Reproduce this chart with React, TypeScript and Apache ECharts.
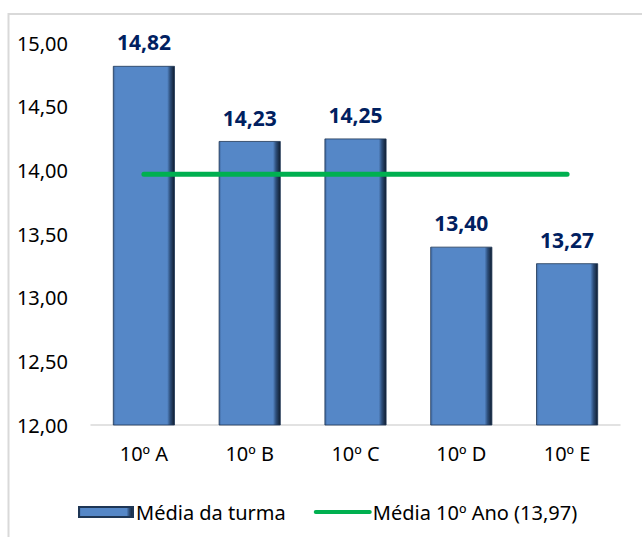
import React, { useEffect, useRef } from "react";
import * as echarts from "echarts";

const categories = ["10º A", "10º B", "10º C", "10º D", "10º E"];
const classAverages = [14.82, 14.23, 14.25, 13.4, 13.27];
const yearAverage = 13.97;
const yearAverageLine = categories.map(() => yearAverage);
const barName = "Média da turma";
const lineName = "Média 10º Ano (13,97)";

const fmt = (v: number) => v.toFixed(2).replace(".", ",");

export default function App() {
  const ref = useRef<HTMLDivElement>(null);
  useEffect(() => {
    if (!ref.current) return;
    const chart = echarts.init(ref.current, undefined, { renderer: "svg" });
    const barFill = new echarts.graphic.LinearGradient(0, 0, 1, 0, [
      { offset: 0, color: "#3f68a0" },
      { offset: 0.04, color: "#5587c7" },
      { offset: 0.88, color: "#5587c7" },
      { offset: 0.93, color: "#2d4e7a" },
      { offset: 1, color: "#0f1c2e" },
    ]);
    const font = "Noto Sans";
    chart.setOption({
      animation: false,
      textStyle: { fontFamily: font },
      graphic: [
        {
          type: "rect",
          shape: { x: 8.5, y: 14, width: 700, height: 600 },
          style: { fill: "none", stroke: "#d9d9d9", lineWidth: 2 },
          silent: true,
        },
      ],
      grid: { left: 91, right: 22, top: 43, bottom: 112 },
      xAxis: {
        type: "category",
        data: categories,
        axisLine: { show: true, lineStyle: { color: "#d9d9d9", width: 1.5 } },
        axisTick: { show: false },
        axisLabel: { color: "#000", fontSize: 20, margin: 18, fontFamily: font },
      },
      yAxis: {
        type: "value",
        min: 12,
        max: 15,
        interval: 0.5,
        splitLine: { show: false },
        axisLine: { show: false },
        axisTick: { show: false },
        axisLabel: {
          color: "#000",
          fontSize: 20,
          margin: 23,
          fontFamily: font,
          formatter: (v: number) => fmt(v),
        },
      },
      legend: {
        left: 73,
        top: 497,
        itemGap: 28,
        itemWidth: 54,
        itemHeight: 10,
        textStyle: { color: "#000", fontSize: 20, fontFamily: font, padding: [0, 0, 0, -2] },
        data: [
          { name: barName, icon: "rect" },
          {
            name: lineName,
            itemStyle: { color: "rgba(0,0,0,0)", borderWidth: 0 },
            lineStyle: { color: "#00b050", width: 4 },
          },
        ],
      },
      series: [
        {
          name: barName,
          type: "bar",
          data: classAverages,
          barWidth: 62,
          itemStyle: { color: barFill, borderColor: "#1e3655", borderWidth: 0.8 },
          label: {
            show: true,
            position: "top",
            distance: 13,
            color: "#002060",
            fontWeight: "bold",
            fontSize: 21,
            fontFamily: font,
            formatter: (p: any) => fmt(p.value),
          },
        },
        {
          name: lineName,
          type: "line",
          data: yearAverageLine,
          symbol: "none",
          lineStyle: { color: "#00b050", width: 5, cap: "round" },
          itemStyle: { color: "#00b050" },
          z: 5,
        },
      ],
    });
    return () => chart.dispose();
  }, []);
  return (
    <div
      ref={ref}
      style={{ position: "absolute", left: 0, top: 0, width: 642, height: 537 }}
    />
  );
}
